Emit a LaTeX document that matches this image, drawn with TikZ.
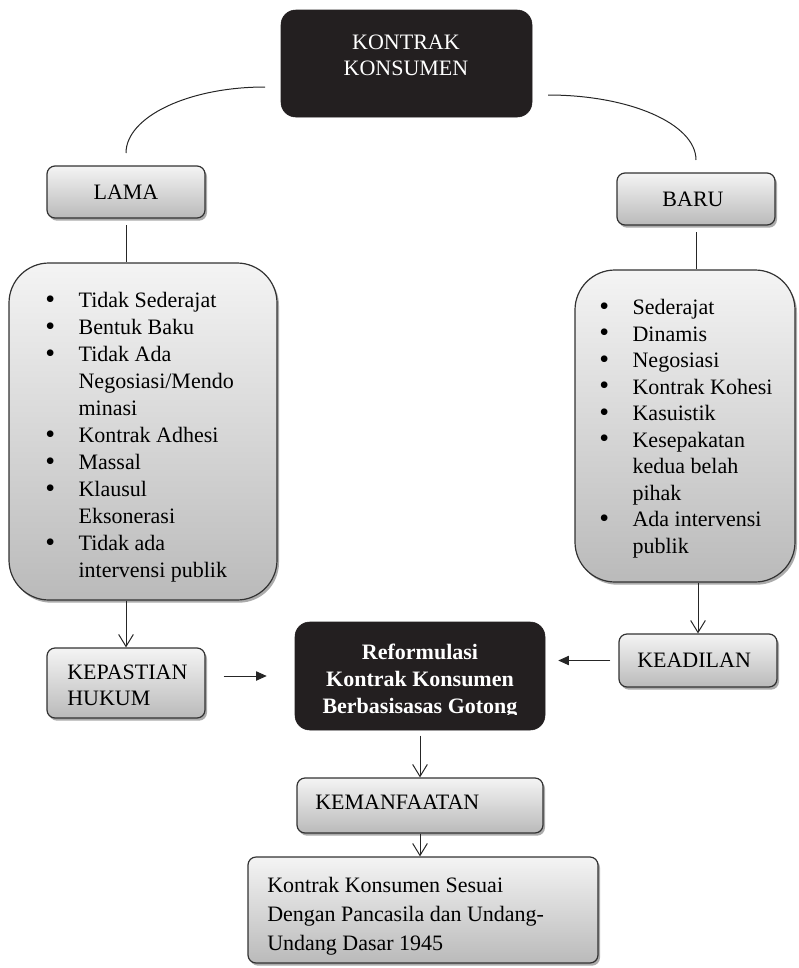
\documentclass[tikz,border=0pt]{standalone}
\usepackage{fontspec}
\setmainfont{Liberation Serif}
\usetikzlibrary{arrows.meta,shadows,fit}
\definecolor{boxtop}{RGB}{244,244,244}
\definecolor{boxbot}{RGB}{186,186,186}
\definecolor{boxedge}{RGB}{50,50,50}
\definecolor{darkfill}{RGB}{35,31,32}
\newcommand\bitem{\makebox[25pt][l]{\raisebox{-0.5pt}{\fontsize{21}{20}\selectfont\textbullet}}}
\newcommand\bcont{\hspace*{25pt}}
\tikzset{
 gbox/.style={draw=boxedge, line width=0.9pt, top color=boxtop, bottom color=boxbot, rounded corners=6pt, inner sep=0pt,
   drop shadow={shadow xshift=1.5pt, shadow yshift=-2pt, fill=black!55, opacity=0.6}},
 bigbox/.style={gbox, rounded corners=30pt},
 blackbox/.style={fill=darkfill, draw=darkfill, rounded corners=11pt, inner sep=0pt},
 txt/.style={inner sep=0pt, font=\fontsize{16.5}{20}\selectfont, text=black},
 wtxt/.style={txt, text=white},
 conn/.style={line width=0.75pt, draw=black!85},
 openarrow/.style={conn, -{Straight Barb[length=9pt, width=11pt]}},
 solidarrow/.style={conn, -{Triangle[length=8pt, width=7pt]}},
}
\begin{document}
\begin{tikzpicture}[x=0.75pt, y=-0.75pt]
\useasboundingbox (0,0) rectangle (799,968);
% boxes
\node[blackbox, fit={(281,10) (532,117)}] (kontrak) {};
\node[gbox, fit={(47,166) (205,218)}] (lama) {};
\node[gbox, fit={(617,173) (775,225)}] (baru) {};
\node[bigbox, fit={(9,263) (277,600)}] (lbox) {};
\node[bigbox, fit={(575,270) (795,582)}] (rbox) {};
\node[gbox, fit={(47,648) (205,718)}] (kep) {};
\node[blackbox, fit={(295,622) (545,730)}] (ref) {};
\node[gbox, fit={(619,634) (777,687)}] (kea) {};
\node[gbox, fit={(297,778) (543,833)}] (kem) {};
\node[gbox, fit={(248,857) (598,963)}] (fin) {};
% texts
\node[wtxt, align=center, anchor=north, font=\fontsize{16.5}{19.5}\selectfont] (kontrakt) at (406,35) {KONTRAK\\KONSUMEN};
\node[txt] (lamat) at (126,192) {LAMA};
\node[txt] (barut) at (693,199) {BARU};
\node[txt, align=left, anchor=north west, font=\fontsize{16.5}{20.25}\selectfont] (llist) at (45,292)
 {\bitem Tidak Sederajat\\\bitem Bentuk Baku\\\bitem Tidak Ada\\\bcont Negosiasi/Mendo\\\bcont minasi\\\bitem Kontrak Adhesi\\\bitem Massal\\\bitem Klausul\\\bcont Eksonerasi\\\bitem Tidak ada\\\bcont intervensi publik};
\node[txt, align=left, anchor=north west, font=\fontsize{16.5}{19.9}\selectfont] (rlist) at (599,299)
 {\bitem Sederajat\\\bitem Dinamis\\\bitem Negosiasi\\\bitem Kontrak Kohesi\\\bitem Kasuistik\\\bitem Kesepakatan\\\bcont kedua belah\\\bcont pihak\\\bitem Ada intervensi\\\bcont publik};
\node[txt, align=left, anchor=north west, font=\fontsize{16.5}{19.5}\selectfont] (kept) at (67,665) {KEPASTIAN\\HUKUM};
\begin{scope}
\clip (ref.north west) rectangle ([yshift=12pt]ref.south east);
\node[wtxt, align=center, anchor=north, font=\bfseries\fontsize{16.5}{20.25}\selectfont] (reft) at (420,644) {Reformulasi\\Kontrak Konsumen\\Berbasisasas Gotong};
\end{scope}
\node[txt, anchor=west] (keat) at (637,660) {KEADILAN};
\node[txt, anchor=west] (kemt) at (315,802) {KEMANFAATAN};
\node[txt, align=left, anchor=north west, font=\fontsize{16.5}{21.75}\selectfont] (fint) at (267,877) {Kontrak Konsumen Sesuai\\Dengan Pancasila dan Undang-\\Undang Dasar 1945};
% connectors
\coordinate (al1) at (265,87);
\coordinate (al2) at (126,153);
\draw[conn] (al1) .. controls (188,87) and (126,117) .. (al2);
\coordinate (ar1) at (548,95);
\coordinate (ar2) at (696,160);
\draw[conn] (ar1) .. controls (630,95) and (696,124) .. (ar2);
\draw[conn] ([yshift=-5pt]lama.south) -- (lama.south |- lbox.north);
\draw[conn] ([yshift=-5pt]baru.south) -- (baru.south |- rbox.north);
\draw[openarrow] (kep.north |- lbox.south) -- (kep.north);
\draw[openarrow] (kea.north |- rbox.south) -- (kea.north);
\draw[openarrow] ([yshift=-4pt]ref.south) -- (kem.north);
\draw[openarrow] (kem.south) -- (kem.south |- fin.north);
\draw[solidarrow] ([xshift=13.5pt]kep.east |- ref.west) -- ([xshift=-21pt]ref.west);
\draw[solidarrow] ([xshift=-6pt]kea.west) -- ([xshift=9.75pt]ref.east |- kea.west);
\end{tikzpicture}
\end{document}
